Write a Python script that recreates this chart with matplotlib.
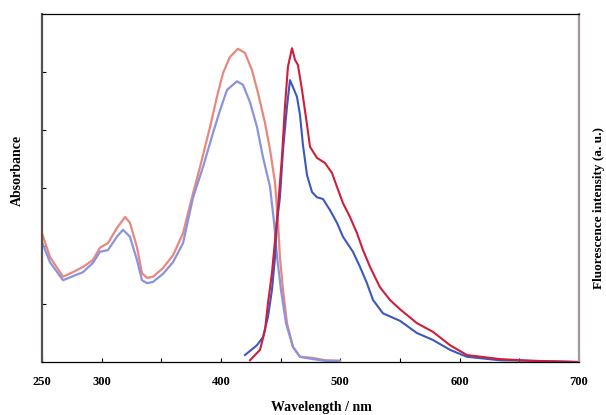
import matplotlib
matplotlib.use("Agg")
import matplotlib.pyplot as plt

# Absorption spectra (nm, arbitrary units)
abs_red_x = [250, 256.7, 267.6, 276.0, 284.4, 292.7, 298.6, 305.3, 312.8, 319.6, 323.7, 329.6, 333.8, 338.0,
             343.0, 351.4, 359.8, 368.2, 375.7, 382.4, 390.8, 396.6, 401.7, 407.5, 414.2, 420.1, 426.0, 431.0,
             436.9, 441.1, 445.3, 447.8, 449.4, 452.0, 455.3, 460.3, 466.2, 477.1, 487.2, 499.7]
abs_red_y = [2.22, 1.81, 1.47, 1.55, 1.64, 1.76, 1.97, 2.05, 2.31, 2.50, 2.40, 1.98, 1.53, 1.45,
             1.47, 1.62, 1.84, 2.22, 2.84, 3.36, 4.05, 4.57, 4.98, 5.26, 5.40, 5.33, 5.03, 4.64,
             4.12, 3.66, 3.09, 2.40, 1.81, 1.24, 0.67, 0.26, 0.09, 0.07, 0.03, 0.02]

abs_blue_x = [250, 256.7, 267.6, 276.0, 284.4, 292.7, 298.6, 305.3, 312.8, 317.9, 323.7, 329.6, 333.8, 338.0,
              343.0, 351.4, 359.8, 368.2, 376.5, 384.9, 393.3, 399.2, 405.0, 413.4, 418.4, 424.3, 430.2,
              435.2, 441.1, 444.5, 447.0, 450.3, 454.5, 460.3, 466.2, 477.1, 487.2, 499.7]
abs_blue_y = [2.07, 1.72, 1.41, 1.48, 1.55, 1.71, 1.90, 1.93, 2.16, 2.28, 2.16, 1.76, 1.41, 1.36,
              1.38, 1.52, 1.72, 2.05, 2.83, 3.36, 3.95, 4.34, 4.69, 4.84, 4.78, 4.48, 4.05,
              3.53, 3.02, 2.40, 1.81, 1.24, 0.67, 0.26, 0.09, 0.05, 0.02, 0.02]

# Fluorescence spectra
fl_red_x = [424.3, 432.7, 436.9, 439.4, 442.7, 445.3, 447.8, 451.1, 453.6, 456.1, 459.5, 462.0, 464.5, 467.9,
            472.1, 474.6, 480.4, 487.2, 493.0, 497.2, 502.2, 508.1, 514.0, 519.0, 524.9, 533.2, 541.6,
            550.0, 564.2, 577.6, 591.9, 606.1, 633.8, 661.5, 700]
fl_red_y = [0.03, 0.21, 0.55, 1.02, 1.53, 2.10, 2.67, 3.53, 4.40, 5.09, 5.41, 5.21, 5.12, 4.69,
            4.09, 3.71, 3.52, 3.43, 3.26, 3.02, 2.74, 2.50, 2.22, 1.93, 1.64, 1.29, 1.07,
            0.91, 0.67, 0.52, 0.29, 0.12, 0.05, 0.02, 0.0]

fl_blue_x = [420.1, 430.2, 435.2, 439.4, 442.7, 445.3, 446.9, 449.4, 452.0, 455.3, 457.8, 460.3, 463.7, 466.2,
             468.7, 472.1, 476.3, 480.4, 485.5, 491.3, 497.2, 502.2, 510.6, 516.5, 522.3, 527.4, 535.7,
             550.0, 564.2, 577.6, 591.9, 606.1, 633.8, 661.5, 700]
fl_blue_y = [0.12, 0.29, 0.43, 0.78, 1.24, 1.81, 2.40, 2.84, 3.66, 4.40, 4.86, 4.74, 4.57, 4.26,
             3.74, 3.22, 2.93, 2.84, 2.81, 2.62, 2.40, 2.16, 1.90, 1.64, 1.36, 1.07, 0.84,
             0.71, 0.50, 0.38, 0.21, 0.09, 0.03, 0.02, 0.0]

x_ticks = [250, 300, 350, 400, 450, 500, 550, 600, 650, 700]
x_tick_labels = ["250", "300", "", "400", "", "500", "", "600", "", "700"]
y_ticks = [1, 2, 3, 4, 5]

plt.rcParams['font.family'] = ['Liberation Serif', 'DejaVu Serif']

fig = plt.figure(figsize=(6.06, 4.15), dpi=100)
ax = fig.add_axes([0.0693, 0.1277, 0.8861, 0.8386])

ax.plot(abs_red_x, abs_red_y, color='#e8877e', lw=1.6, solid_joinstyle='round')
ax.plot(abs_blue_x, abs_blue_y, color='#8b93dc', lw=1.6, solid_joinstyle='round')
ax.plot(fl_blue_x, fl_blue_y, color='#3b58c2', lw=1.5, solid_joinstyle='round')
ax.plot(fl_red_x, fl_red_y, color='#cf1d3a', lw=1.5, solid_joinstyle='round')

ax.set_xlim(250, 700)
ax.set_ylim(0, 6)
ax.set_xticks(x_ticks)
ax.set_xticklabels(x_tick_labels, fontsize=9, fontweight='bold')
ax.set_yticks(y_ticks)
ax.set_yticklabels([])
ax.tick_params(axis='both', direction='in', length=3, width=0.8)
ax.tick_params(axis='x', pad=10)

ax.spines['left'].set_color('#5a5050')
ax.spines['left'].set_linewidth(1.6)
ax.spines['right'].set_color('#a09898')
ax.spines['right'].set_linewidth(1.6)
ax.spines['top'].set_linewidth(0.9)
ax.spines['bottom'].set_linewidth(0.9)

fig.text(0.028, 0.59, "Absorbance", rotation=90, ha='center', va='center',
         fontsize=10, fontweight='bold')
fig.text(0.53, 0.019, "Wavelength / nm", ha='center', va='center',
         fontsize=10, fontweight='bold')
fig.text(0.988, 0.498, "Fluorescence intensity (a. u.)", rotation=90, ha='center', va='center',
         fontsize=9.5, fontweight='bold')

fig.savefig("out.png", dpi=100)
